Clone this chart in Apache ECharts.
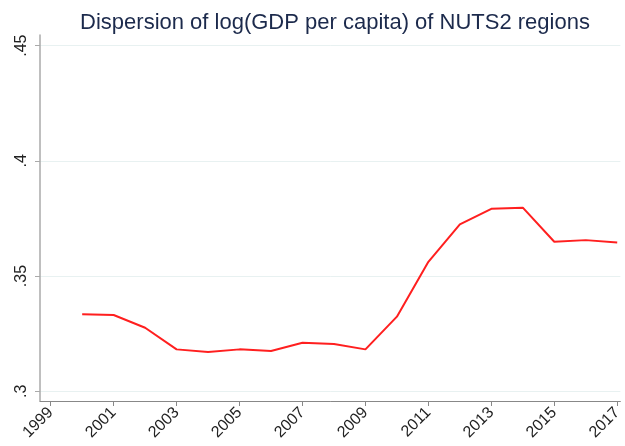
<!DOCTYPE html>
<html>
<head>
<meta charset="utf-8">
<script src="https://cdn.jsdelivr.net/npm/echarts@6/dist/echarts.min.js"></script>
<style>
	html, body { margin: 0; padding: 0; background: #fff; }
	#chart { width: 625px; height: 446px; }
</style>
</head>
<body>
<div id="chart"></div>
<script>
var years = [2000, 2001, 2002, 2003, 2004, 2005, 2006, 2007, 2008, 2009, 2010, 2011, 2012, 2013, 2014, 2015, 2016, 2017];
var dispersion = [0.3334, 0.3331, 0.3276, 0.3182, 0.3171, 0.3182, 0.3175, 0.3211, 0.3205, 0.3182, 0.3324, 0.3562, 0.3724, 0.3792, 0.3797, 0.3649, 0.3656, 0.3646];
var xTicks = [1999, 2001, 2003, 2005, 2007, 2009, 2011, 2013, 2015, 2017];
var yTicks = [0.3, 0.35, 0.4, 0.45];

var myChart = echarts.init(document.getElementById("chart"));
var points = [];
for (var i = 0; i < years.length; i++) {
	points.push([years[i], dispersion[i]]);
}
var option = {
	backgroundColor: '#fff',
	animation: false,
	title: {
		text: 'Dispersion of log(GDP per capita) of NUTS2 regions',
		left: 330,
		textAlign: 'center',
		top: 7,
		textStyle: {
			fontFamily: 'Liberation Sans',
			fontSize: 22,
			fontWeight: 'normal',
			color: '#1c2a4c'
		}
	},
	grid: { left: 40, right: 0, top: 35, bottom: 45 },
	xAxis: {
		type: 'value',
		min: 1998.66,
		max: 2017.1,
		axisLine: { lineStyle: { color: '#888', width: 1 } },
		axisTick: { customValues: xTicks, length: 5, lineStyle: { color: '#888' } },
		axisLabel: {
			customValues: xTicks,
			rotate: 45,
			margin: 9,
			fontFamily: 'Liberation Sans',
			fontSize: 16,
			color: '#222',
			formatter: function(v) {
				return String(v);
			}
		},
		splitLine: { show: false }
	},
	yAxis: {
		type: 'value',
		min: 0.2958,
		max: 0.4546,
		axisLine: { show: true, lineStyle: { color: '#aaa', width: 1.5 } },
		axisTick: { show: true, customValues: yTicks, length: 5, lineStyle: { color: '#aaa' } },
		axisLabel: {
			customValues: yTicks,
			rotate: 90,
			margin: 10,
			fontFamily: 'Liberation Sans',
			fontSize: 16,
			color: '#222',
			formatter: function(v) {
				return String(v).replace(/^0/, '');
			}
		},
		splitLine: { show: true, lineStyle: { color: '#e8f1f1', width: 1 } }
	},
	series: [{
		type: 'line',
		data: points,
		symbol: 'none',
		lineStyle: { color: '#ff1f1f', width: 2 }
	}]
};
myChart.setOption(option);
</script>
</body>
</html>
